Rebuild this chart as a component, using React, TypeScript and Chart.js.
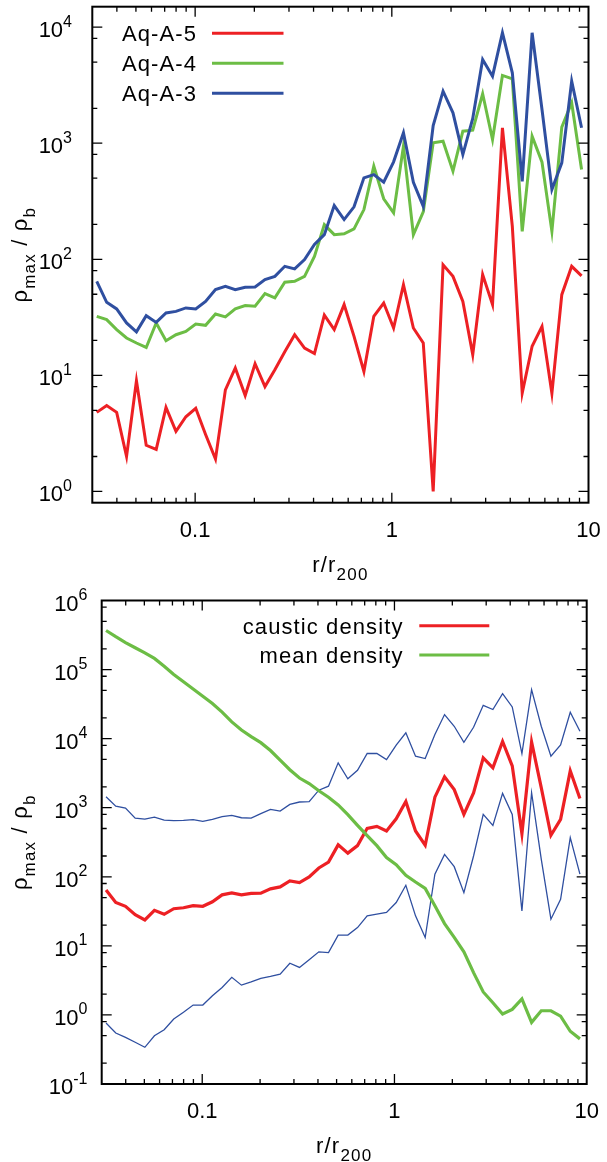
import React, { useEffect, useRef } from 'react';
import { Chart, registerables } from 'chart.js';

Chart.register(...registerables);

const FAMILY = "'Liberation Sans', Arial, Helvetica, sans-serif";
const RED = '#ed2024';
const GREEN = '#6cbd45';
const BLUE = '#2f4fa0';

// r / r200 sample positions (shared by every series)
const radius = [
  0.0316, 0.0355, 0.0399, 0.0448, 0.0503, 0.0564, 0.0634, 0.0711, 0.0799, 0.0897,
  0.1007, 0.113, 0.1269, 0.1425, 0.16, 0.1797, 0.2017, 0.2265, 0.2543, 0.2856,
  0.3206, 0.36, 0.4042, 0.4538, 0.5096, 0.5721, 0.6424, 0.7213, 0.8098, 0.9093,
  1.021, 1.146, 1.287, 1.445, 1.623, 1.822, 2.046, 2.297, 2.579, 2.896,
  3.251, 3.651, 4.099, 4.603, 5.168, 5.802, 6.515, 7.315, 8.213, 9.221,
];

// Top panel
const aqA5 = [
  4.8, 5.5, 4.8, 2.0, 9.0, 2.5, 2.3, 5.3, 3.3, 4.4,
  5.2, 3.1, 1.9, 7.5, 11.6, 6.7, 12.6, 8.0, 11.2, 16,
  22.4, 17.2, 15.4, 33, 24.8, 40.7, 21.7, 10.8, 32.3, 42,
  25.6, 60.5, 25.6, 19, 1.0, 89.6, 71.3, 43.4, 15.1, 73.8,
  40.7, 1356, 192, 7.05, 17.8, 26.4, 7.0, 49.6, 87, 72,
];
const aqA4 = [
  32.2, 30.2, 24.8, 21, 19, 17.4, 28.3, 19.9, 22.4, 23.9,
  27.7, 27, 33.8, 31.9, 37.4, 39.9, 39.4, 50.6, 46.5, 63.4,
  64.6, 71.3, 106, 199, 163, 166, 183, 268, 634, 332,
  251, 942, 163, 256, 1008, 1040, 574, 1268, 1294, 2667,
  1076, 3836, 3590, 174, 1149, 686, 174, 1374, 2230, 593,
];
const aqA3 = [
  64.6, 42.6, 37.4, 28.3, 23.7, 32.7, 28.6, 34.5, 35.6, 38.1,
  37.4, 43.4, 54.8, 58.5, 54.8, 57.4, 57.8, 66.8, 71.3, 87,
  82.6, 99.4, 134, 163, 290, 220, 283, 503, 537, 461,
  691, 1230, 461, 286, 1421, 2806, 1829, 799, 1634, 5270,
  3781, 8950, 4045, 470, 8950, 1950, 399, 678, 3421, 1358,
];

// Bottom panel
const causticDensity = [
  64.6, 42.6, 37.4, 28.3, 23.7, 32.7, 28.6, 34.5, 35.6, 38.1,
  37.4, 43.4, 54.8, 58.5, 54.8, 57.4, 57.8, 66.8, 71.3, 87,
  82.6, 99.4, 134, 163, 290, 220, 283, 503, 537, 461,
  691, 1230, 461, 286, 1421, 2806, 1829, 799, 1634, 5270,
  3781, 9100, 4045, 420, 8950, 1950, 399, 678, 3421, 1358,
];
const meanDensity = [
  368000, 299000, 246000, 207000, 175000, 145000, 112000, 85000, 66600, 52300,
  41000, 32200, 24200, 17500, 13300, 10700, 8750, 6730, 4880, 3550,
  2690, 2240, 1760, 1420, 1096, 795, 556, 394, 282, 190,
  150, 105, 84, 68, 38, 21, 13.3, 8.2, 4.1, 2.15,
  1.5, 1.03, 1.2, 1.7, 0.78, 1.15, 1.15, 0.96, 0.58, 0.45,
];
const causticUpper = [
  1443, 1055, 987, 707, 684, 731, 662, 649, 654, 671,
  634, 678, 741, 774, 716, 708, 819, 945, 893, 1116,
  1210, 1221, 1795, 2051, 4467, 2624, 3491, 6095, 6095, 4988,
  8035, 12130, 5570, 5150, 11450, 22300, 15100, 8870, 14600, 30400,
  26400, 44900, 28800, 6090, 51300, 15100, 5570, 8130, 24100, 12800,
];
const causticLower = [
  0.764, 0.547, 0.474, 0.402, 0.34, 0.5, 0.61, 0.873, 1.09, 1.39,
  1.39, 1.89, 2.5, 3.5, 2.7, 3.0, 3.38, 3.61, 3.9, 5.6,
  4.87, 6.3, 8.2, 8.0, 14.3, 14.3, 18.4, 27.2, 28.7, 30.4,
  42.4, 75.4, 27.2, 13.2, 109, 211, 140, 59, 200, 800,
  554, 1610, 800, 32, 1650, 180, 24.3, 47.3, 368, 109,
];

const topLegendLabels = ['Aq-A-5', 'Aq-A-4', 'Aq-A-3'];
const bottomLegendLabels = ['caustic density', 'mean density'];
const xTickValues = [0.1, 1, 10];
const xTickLabels = ['0.1', '1', '10'];
const topYExponents = [0, 1, 2, 3, 4];
const bottomYExponents = [-1, 0, 1, 2, 3, 4, 5, 6];
const yMinorSignificands = [2, 5, 8];

type Seg = { t: string; sub?: boolean; sup?: boolean };
type RichOpts = { size: number; small: number; shift: number; spacing: number };
type Box = { left: number; right: number; top: number; bottom: number };

function drawRich(
  ctx: CanvasRenderingContext2D,
  segs: Seg[],
  x: number,
  y: number,
  align: 'left' | 'right' | 'center',
  o: RichOpts,
) {
  const hasLS = 'letterSpacing' in ctx;
  const setFont = (s: Seg) => {
    ctx.font = `${s.sub || s.sup ? o.small : o.size}px ${FAMILY}`;
    if (hasLS) (ctx as any).letterSpacing = `${o.spacing}px`;
  };
  const widths = segs.map((s) => {
    setFont(s);
    return ctx.measureText(s.t).width;
  });
  const total = widths.reduce((a, b) => a + b, 0);
  let cx = align === 'left' ? x : align === 'right' ? x - total : x - total / 2;
  ctx.textAlign = 'left';
  ctx.textBaseline = 'alphabetic';
  ctx.fillStyle = '#000';
  segs.forEach((s, i) => {
    setFont(s);
    const dy = s.sub ? o.shift : s.sup ? -o.shift : 0;
    ctx.fillText(s.t, cx, y + dy);
    cx += widths[i];
  });
  if (hasLS) (ctx as any).letterSpacing = '0px';
}

function significand(v: number): number | null {
  const e = Math.floor(Math.log10(v) + 1e-9);
  const s = v / Math.pow(10, e);
  const r = Math.round(s);
  return Math.abs(s - r) < 1e-6 ? r : null;
}

interface DecorCfg {
  yExponents: number[];
  yLabelRight: number;
  yTitleX: number;
  xTitleBaseline: number;
  legendLabels: string[];
  legendColors: string[];
  legendTextRight: number;
  legendX0: number;
  legendX1: number;
  legendY0: number;
  legendDy: number;
}

function makeDecor(cfg: DecorCfg) {
  return {
    id: 'gnuDecor',
    afterDraw(chart: any) {
      const { ctx, chartArea: a } = chart;
      const xs = chart.scales.x;
      const ys = chart.scales.y;
      ctx.save();
      // inward tick marks on all four sides
      ctx.strokeStyle = '#000';
      ctx.lineWidth = 1.3;
      ctx.beginPath();
      for (const t of xs.ticks) {
        const s = significand(t.value);
        if (s === null || s < 1 || s > 9) continue;
        const px = xs.getPixelForValue(t.value);
        if (px <= a.left + 1 || px >= a.right - 1) continue;
        const len = s === 1 ? 10 : 5;
        ctx.moveTo(px, a.bottom);
        ctx.lineTo(px, a.bottom - len);
        ctx.moveTo(px, a.top);
        ctx.lineTo(px, a.top + len);
      }
      for (const t of ys.ticks) {
        const s = significand(t.value);
        if (s === null || (s !== 1 && !yMinorSignificands.includes(s))) continue;
        const py = ys.getPixelForValue(t.value);
        if (py <= a.top + 1 || py >= a.bottom - 1) continue;
        const len = s === 1 ? 10 : 5;
        ctx.moveTo(a.left, py);
        ctx.lineTo(a.left + len, py);
        ctx.moveTo(a.right, py);
        ctx.lineTo(a.right - len, py);
      }
      ctx.stroke();
      // frame
      ctx.lineWidth = 2;
      ctx.strokeRect(a.left, a.top, a.right - a.left, a.bottom - a.top);

      // x tick labels at the decades
      xTickValues.forEach((v, i) => {
        const px = xs.getPixelForValue(v);
        drawRich(ctx, [{ t: xTickLabels[i] }], px, a.bottom + 34, 'center', {
          size: 22,
          small: 16,
          shift: 0,
          spacing: 0,
        });
      });

      // y tick labels 10^n
      for (const t of ys.ticks) {
        const lg = Math.log10(t.value);
        const e = Math.round(lg);
        if (Math.abs(lg - e) > 1e-6 || !cfg.yExponents.includes(e)) continue;
        const py = ys.getPixelForValue(t.value);
        drawRich(ctx, [{ t: '10' }, { t: String(e), sup: true }], cfg.yLabelRight, py + 10, 'right', {
          size: 22,
          small: 16,
          shift: 10.5,
          spacing: 0,
        });
      }

      // x title
      drawRich(ctx, [{ t: 'r/r' }, { t: '200', sub: true }], (a.left + a.right) / 2, cfg.xTitleBaseline, 'center', {
        size: 22,
        small: 17,
        shift: 8,
        spacing: 1.2,
      });

      // y title (rotated)
      ctx.save();
      ctx.translate(cfg.yTitleX, (a.top + a.bottom) / 2);
      ctx.rotate(-Math.PI / 2);
      drawRich(
        ctx,
        [{ t: '\u03c1' }, { t: 'max', sub: true }, { t: ' / \u03c1' }, { t: 'b', sub: true }],
        0,
        0,
        'center',
        { size: 22, small: 17, shift: 8, spacing: 1.2 },
      );
      ctx.restore();

      // legend (gnuplot style: text then sample)
      cfg.legendLabels.forEach((lab, i) => {
        const y = cfg.legendY0 + i * cfg.legendDy;
        drawRich(ctx, [{ t: lab }], cfg.legendTextRight, y + 8, 'right', {
          size: 22,
          small: 17,
          shift: 0,
          spacing: 1.1,
        });
        ctx.strokeStyle = cfg.legendColors[i];
        ctx.lineWidth = 3;
        ctx.beginPath();
        ctx.moveTo(cfg.legendX0, y);
        ctx.lineTo(cfg.legendX1, y);
        ctx.stroke();
      });
      ctx.restore();
    },
  };
}

const pts = (vals: number[]) => radius.map((r, i) => ({ x: r, y: vals[i] }));

function makeChart(
  canvas: HTMLCanvasElement,
  datasets: any[],
  yMin: number,
  yMax: number,
  area: Box,
  decor: DecorCfg,
) {
  const W = canvas.width;
  const H = canvas.height;
  const padding = { left: area.left, right: W - area.right, top: area.top, bottom: H - area.bottom };
  const options: any = {
    animation: false,
    responsive: false,
    maintainAspectRatio: false,
    devicePixelRatio: 1,
    events: [],
    layout: { padding: { ...padding } },
    plugins: { legend: { display: false }, tooltip: { enabled: false } },
    elements: {
      point: { radius: 0 },
      line: { tension: 0, borderJoinStyle: 'miter', borderCapStyle: 'butt' },
    },
    scales: {
      x: {
        type: 'logarithmic',
        min: 0.03,
        max: 10,
        position: 'bottom',
        grid: { display: false, drawTicks: false },
        border: { display: false },
        ticks: { display: false, autoSkip: false },
        afterFit: (s: any) => {
          s.height = 0;
        },
      },
      y: {
        type: 'logarithmic',
        min: yMin,
        max: yMax,
        position: 'left',
        grid: { display: false, drawTicks: false },
        border: { display: false },
        ticks: { display: false },
        afterFit: (s: any) => {
          s.width = 0;
        },
      },
    },
  };
  const chart = new Chart(canvas, {
    type: 'line',
    data: { datasets },
    options,
    plugins: [makeDecor(decor)],
  });
  // correct the layout so the plot frame lands exactly on the wanted rectangle
  for (let k = 0; k < 3; k++) {
    const a = chart.chartArea;
    const dl = area.left - a.left;
    const dr = a.right - area.right;
    const dt = area.top - a.top;
    const db = a.bottom - area.bottom;
    if (Math.abs(dl) + Math.abs(dr) + Math.abs(dt) + Math.abs(db) < 0.05) break;
    padding.left += dl;
    padding.right += dr;
    padding.top += dt;
    padding.bottom += db;
    (chart.config.options as any).layout.padding = { ...padding };
    chart.update();
  }
  return chart;
}

export default function App() {
  const topRef = useRef<HTMLCanvasElement>(null);
  const botRef = useRef<HTMLCanvasElement>(null);

  useEffect(() => {
    const top = makeChart(
      topRef.current!,
      [
        { label: topLegendLabels[0], data: pts(aqA5), borderColor: RED, borderWidth: 3, order: 3 },
        { label: topLegendLabels[1], data: pts(aqA4), borderColor: GREEN, borderWidth: 3, order: 2 },
        { label: topLegendLabels[2], data: pts(aqA3), borderColor: BLUE, borderWidth: 3, order: 1 },
      ],
      0.8,
      15000,
      { left: 92.3, right: 588.5, top: 6.7, bottom: 502.7 },
      {
        yExponents: topYExponents,
        yLabelRight: 72,
        yTitleX: 27,
        xTitleBaseline: 571.7,
        legendLabels: topLegendLabels,
        legendColors: [RED, GREEN, BLUE],
        legendTextRight: 197,
        legendX0: 212,
        legendX1: 283.5,
        legendY0: 33.3,
        legendDy: 30,
      },
    );
    const bottom = makeChart(
      botRef.current!,
      [
        { label: 'upper', data: pts(causticUpper), borderColor: BLUE, borderWidth: 1.3, order: 4 },
        { label: 'lower', data: pts(causticLower), borderColor: BLUE, borderWidth: 1.3, order: 4 },
        { label: bottomLegendLabels[0], data: pts(causticDensity), borderColor: RED, borderWidth: 3.2, order: 2 },
        { label: bottomLegendLabels[1], data: pts(meanDensity), borderColor: GREEN, borderWidth: 3.2, order: 1 },
      ],
      0.1,
      1e6,
      { left: 101.7, right: 586.7, top: 20.5, bottom: 504 },
      {
        yExponents: bottomYExponents,
        yLabelRight: 87.5,
        yTitleX: 27,
        xTitleBaseline: 573,
        legendLabels: bottomLegendLabels,
        legendColors: [RED, GREEN],
        legendTextRight: 403.5,
        legendX0: 419.3,
        legendX1: 489.3,
        legendY0: 45.7,
        legendDy: 29.3,
      },
    );
    return () => {
      top.destroy();
      bottom.destroy();
    };
  }, []);

  return (
    <div style={{ position: 'absolute', left: 0, top: 0, width: 607, height: 1162, background: '#fff' }}>
      <canvas
        ref={topRef}
        width={607}
        height={580}
        style={{ position: 'absolute', left: 0, top: 0, width: 607, height: 580 }}
      />
      <canvas
        ref={botRef}
        width={607}
        height={582}
        style={{ position: 'absolute', left: 0, top: 580, width: 607, height: 582 }}
      />
    </div>
  );
}
